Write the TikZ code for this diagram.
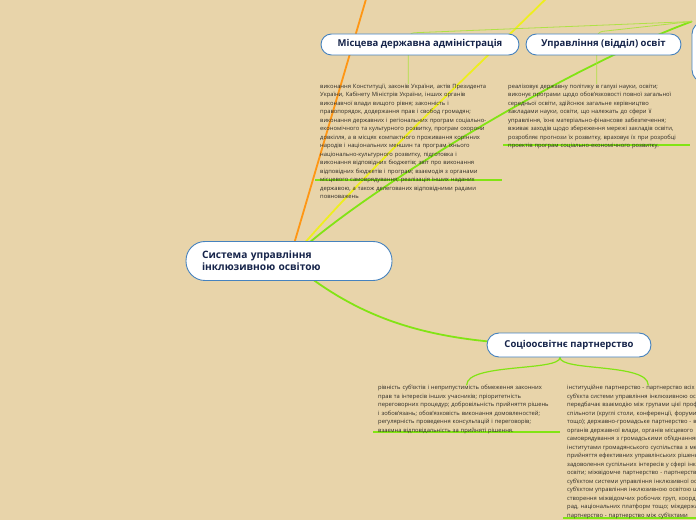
\documentclass[tikz,border=0pt]{standalone}
\usepackage{fontspec}
\setmainfont{Open Sans}
\usetikzlibrary{backgrounds}

\definecolor{paper}{RGB}{232,212,170}
\definecolor{topicblue}{RGB}{70,130,190}
\definecolor{topicink}{RGB}{22,36,74}
\definecolor{noteink}{RGB}{45,42,38}
\definecolor{linkorange}{RGB}{255,150,20}
\definecolor{linkyellow}{RGB}{238,238,30}
\definecolor{linkgreen}{RGB}{130,228,20}
\definecolor{linklight}{RGB}{175,225,70}

\tikzset{
    topic/.style={draw=topicblue, line width=0.9pt, fill=white, rounded corners=10.5pt,
        text=topicink, font=\bfseries\fontsize{9.5}{11}\selectfont},
    rootbox/.style={topic, rounded corners=19pt, inner xsep=16pt, minimum height=39,
        text width=174, align=left, font=\bfseries\fontsize{10.2}{12}\selectfont},
    note/.style={anchor=north west, inner sep=0pt, align=left, text=noteink,
        font=\fontsize{5.8}{8.5}\selectfont},
    link/.style={line width=1.8pt, line cap=round},
    sublink/.style={draw=linklight, line width=0.8pt, rounded corners=6pt},
    underline/.style={draw=linkgreen, line width=1.2pt}
}

\begin{document}
\begin{tikzpicture}[x=1pt, y=1pt]
    \useasboundingbox (0,0) rectangle (696,520);

    % topics
    \node[rootbox] (sys) at (289,259) {Система управління\\інклюзивною освітою};
    \node[topic, minimum width=198, minimum height=21]
        (mda) at (420,475.5) {Місцева державна адміністрація};
    \node[topic, minimum width=155, minimum height=21]
        (uvo) at (603.5,475.5) {Управління (відділ) освіт};
    \node[topic, rounded corners=12pt, minimum width=168, minimum height=60]
        (organy) at (776,468) {};
    \node[topic, rounded corners=12pt, minimum width=164, minimum height=24]
        (partner) at (569,175) {Соціоосвітнє партнерство};

    % notes
    \node[note, text width=176] (mda-note) at (320,436) {виконання Конституції, законів України, актів Президента\\
        України, Кабінету Міністрів України, інших органів\\
        виконавчої влади вищого рівня; законність і\\
        правопорядок, додержання прав і свобод громадян;\\
        виконання державних і регіональних програм соціально-\\
        економічного та культурного розвитку, програм охорони\\
        довкілля, а в місцях компактного проживання корінних\\
        народів і національних меншин та програм їхнього\\
        національно-культурного розвитку, підготовка і\\
        виконання відповідних бюджетів; звіт про виконання\\
        відповідних бюджетів і програм; взаємодія з органами\\
        місцевого самоврядування; реалізація інших наданих\\
        державою, а також делегованих відповідними радами\\
        повноважень};
    \node[note, text width=177] (uvo-note) at (508,436) {реалізовує державну політику в галузі науки, освіти;\\
        виконує програми щодо обов'язковості повної загальної\\
        середньої освіти, здійснює загальне керівництво\\
        закладами науки, освіти, що належать до сфери її\\
        управління, їхнє матеріально-фінансове забезпечення;\\
        вживає заходів щодо збереження мережі закладів освіти,\\
        розробляє прогнози їх розвитку, враховує їх при розробці\\
        проектів програм соціально-економічного розвитку.};
    \node[note, text width=177] (part-note-l) at (378,135) {рівність суб'єктів і неприпустимість обмеження законних\\
        прав та інтересів інших учасників; пріоритетність\\
        переговорних процедур; добровільність прийняття рішень\\
        і зобов'язань; обов'язковість виконання домовленостей;\\
        регулярність проведення консультацій і переговорів;\\
        взаємна відповідальність за прийняті рішення.};
    \node[note, text width=162] (part-note-r) at (567,135) {інституційне партнерство - партнерство всіх\\
        суб'єкта системи управління інклюзивною освітою,\\
        передбачає взаємодію між групами цієї професійної\\
        спільноти (круглі столи, конференції, форуми\\
        тощо); державно-громадське партнерство - взаємодія\\
        органів державної влади, органів місцевого\\
        самоврядування з громадськими об'єднаннями,\\
        інститутами громадянського суспільства з метою\\
        прийняття ефективних управлінських рішень,\\
        задоволення суспільних інтересів у сфері інклюзивної\\
        освіти; міжвідомче партнерство - партнерство між\\
        суб'єктом системи управління інклюзивної освіти та\\
        суб'єктом управління інклюзивною освітою шляхом\\
        створення міжвідомчих робочих груп, координаційних\\
        рад, національних платформ тощо; міждержавне\\
        партнерство - партнерство між суб'єктами};

    \begin{scope}[on background layer]
        \fill[paper] (0,0) rectangle (696,520);
        % branches leaving the page
        \coordinate (up-o) at (374,548);
        \coordinate (up-y) at (570,545);
        \draw[link, linkorange] (sys.center) -- (up-o);
        \draw[link, linkyellow] (sys.center) .. controls (380,365) and (480,455) .. (up-y);
        \draw[link, linkgreen] (sys.center) .. controls (350,320) and (560,450) .. (organy.north west);
        \draw[link, linkgreen] (sys.center) .. controls (360,200) and (430,175) .. (partner.center);
        % sub branches
        \draw[sublink] (mda-note.north) -- ++(0,51) -- (organy.north west);
        \draw[sublink] (uvo-note.north) -- ++(0,52) -- (organy.north west);
        \draw[link, linkgreen, line width=1.2pt] ([xshift=-9]partner.south)
            .. controls +(0,-14) and +(0,22) .. (part-note-l.north);
        \draw[link, linkgreen, line width=1.2pt] ([xshift=-9]partner.south)
            .. controls +(0,-14) and +(0,22) .. (part-note-r.north);
        % underlines
        \draw[underline] (315,340) -- (502,340);
        \draw[underline] (503,375) -- (690,375);
        \draw[underline] (373,88) -- (560,88);
        \draw[underline] (563,2) -- (740,2);
    \end{scope}
\end{tikzpicture}
\end{document}
